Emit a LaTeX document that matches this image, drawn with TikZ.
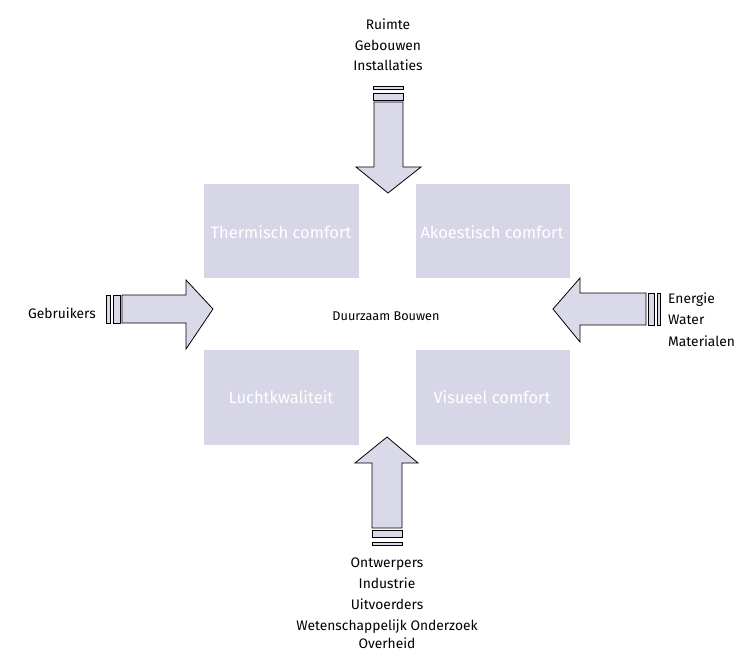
\documentclass[tikz,border=0pt]{standalone}
\usepackage{fontspec}
\setmainfont{Fira Sans}
\definecolor{boxfill}{HTML}{D6D6E6}
\definecolor{arrowfill}{HTML}{D9D9EA}
\begin{document}
\begin{tikzpicture}[x=1pt,y=-1pt,
  cbox/.style={fill=boxfill},
  ctext/.style={text=white,font=\fontsize{16.5}{19}\selectfont,anchor=base,inner sep=0pt},
  lbl/.style={font=\fontsize{13.8}{16}\selectfont,anchor=base,inner sep=0pt},
  blk/.style={draw=black,fill=arrowfill,line width=0.8pt,line join=miter}]
\useasboundingbox (0,0) rectangle (739,650);
% boxes
\fill[cbox] (204,184) rectangle (359,278);
\fill[cbox] (416,184) rectangle (570,278);
\fill[cbox] (204,350) rectangle (359,445);
\fill[cbox] (416,350) rectangle (570,445);
\node[ctext] (t1) at (281,238) {Thermisch comfort};
\node[ctext] (t2) at (492,238) {Akoestisch comfort};
\node[ctext] (t3) at (281,403) {Luchtkwaliteit};
\node[ctext] (t4) at (492,403) {Visueel comfort};
\node[font=\fontsize{12.7}{15}\selectfont,anchor=base,inner sep=0pt] (c) at (386,320) {Duurzaam Bouwen};
% top arrow
\draw[blk] (373,86) rectangle (403,89);
\draw[blk] (373,93) rectangle (403,100);
\draw[blk] (374,102) -- (403,102) -- (403,167) -- (421,167) -- (388,193) -- (356,167) -- (374,167) -- cycle;
% bottom arrow
\draw[blk] (372,542) rectangle (402,545);
\draw[blk] (372,530) rectangle (402,537);
\draw[blk] (372,528) -- (402,528) -- (402,463) -- (418,463) -- (387,437) -- (355,463) -- (372,463) -- cycle;
% left arrow
\draw[blk] (106,295) rectangle (110,323);
\draw[blk] (113,295) rectangle (120,323);
\draw[blk] (122,295) -- (186,295) -- (186,280) -- (213,309) -- (186,349) -- (186,323) -- (122,323) -- cycle;
% right arrow
\draw[blk] (657,293) rectangle (660,325);
\draw[blk] (648,293) rectangle (654,325);
\draw[blk] (646,293) -- (580,293) -- (580,278) -- (553,309) -- (580,342) -- (580,325) -- (646,325) -- cycle;
% labels top
\node[lbl] (top1) at (388,30) {Ruimte};
\node[lbl] (top2) at (388,50.5) {Gebouwen};
\node[lbl] (top3) at (388,71) {Installaties};
% labels bottom
\node[lbl] (bot1) at (387,567) {Ontwerpers};
\node[lbl] (bot2) at (387,588) {Industrie};
\node[lbl] (bot3) at (387,609) {Uitvoerders};
\node[lbl] (bot4) at (387,630) {Wetenschappelijk Onderzoek};
\node[lbl] (bot5) at (387,648.5) {Overheid};
% left / right
\node[lbl,anchor=base east] (left) at (96,318) {Gebruikers};
\node[lbl,anchor=base west] (r1) at (668,303) {Energie};
\node[lbl,anchor=base west] (r2) at (668,324.5) {Water};
\node[lbl,anchor=base west] (r3) at (668,346) {Materialen};
\end{tikzpicture}
\end{document}
